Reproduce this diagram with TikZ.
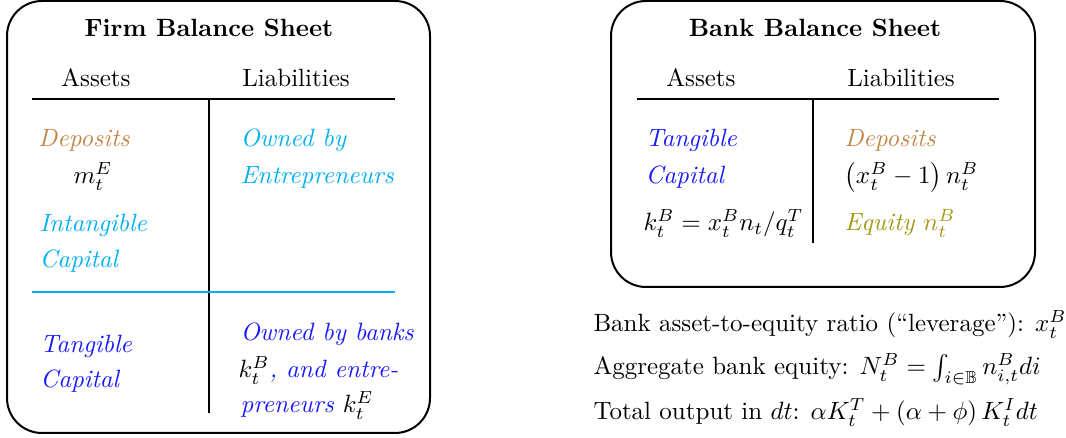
\documentclass[tikz,border=0pt]{standalone}
\usepackage{amsmath,amssymb}
\usepackage{tikz}
\definecolor{depcol}{RGB}{196,134,72}
\definecolor{intcol}{RGB}{0,176,240}
\definecolor{tangcol}{RGB}{25,25,255}
\definecolor{eqcol}{RGB}{165,150,20}

\begin{document}
\begin{tikzpicture}[x=0.4pt,y=-0.4pt,
    sheet/.style={draw, line width=0.8pt, rounded corners=14pt},
    txt/.style={anchor=base west, inner sep=0pt},
    head/.style={anchor=base, inner sep=0pt},
    rule/.style={line width=0.8pt}]
  \useasboundingbox (0,0) rectangle (1066,438);

  % firm balance sheet
  \draw[sheet] (7,1) rectangle (430,433);
  \node[head, font=\bfseries] (firmtitle) at (209,37) {Firm Balance Sheet};
  \node[head] (firmassets) at (96,87) {Assets};
  \node[head] (firmliab) at (296,87) {Liabilities};
  \coordinate (firmtl) at (32,99);
  \coordinate (firmtr) at (395,99);
  \coordinate (firmvt) at (208.5,99);
  \coordinate (firmvb) at (208.5,413);
  \coordinate (firmml) at (32,292);
  \coordinate (firmmr) at (395,292);
  \draw[rule] (firmtl) -- (firmtr);
  \draw[rule] (firmvt) -- (firmvb);
  \draw[rule, intcol] (firmml) -- (firmmr);

  \node[txt, depcol, font=\itshape] (firmdep) at (38,147) {Deposits};
  \node[txt] (firmm) at (73,184) {$m_t^E$};
  \node[txt, intcol, font=\itshape] (firmint) at (39,232) {Intangible};
  \node[txt, intcol, font=\itshape] (firmintcap) at (39,268) {Capital};
  \node[txt, tangcol, font=\itshape] (firmtang) at (40,353) {Tangible};
  \node[txt, tangcol, font=\itshape] (firmtangcap) at (40,388) {Capital};

  \node[txt, intcol, font=\itshape] (firmown) at (240,147) {Owned by};
  \node[txt, intcol, font=\itshape] (firment) at (240,184) {Entrepreneurs};
  \node[txt, tangcol, font=\itshape] (firmbanks) at (240,341) {Owned by banks};
  \node[txt, tangcol, font=\itshape] (firmand) at (238,378) {\textcolor{black}{$k_t^B$}, and entre-};
  \node[txt, tangcol, font=\itshape] (firmpren) at (240,413) {preneurs \textcolor{black}{$k_t^E$}};

  % bank balance sheet
  \draw[sheet] (611,1) rectangle (1035,287);
  \node[head, font=\bfseries] (banktitle) at (815,37) {Bank Balance Sheet};
  \node[head] (bankassets) at (701,87) {Assets};
  \node[head] (bankliab) at (901,87) {Liabilities};
  \coordinate (banktl) at (637,99);
  \coordinate (banktr) at (999,99);
  \coordinate (bankvt) at (813,99);
  \coordinate (bankvb) at (813,243);
  \draw[rule] (banktl) -- (banktr);
  \draw[rule] (bankvt) -- (bankvb);

  \node[txt, tangcol, font=\itshape] (banktang) at (645,147) {Tangible};
  \node[txt, tangcol, font=\itshape] (banktangcap) at (645,184) {Capital};
  \node[txt] (bankk) at (643,231) {$k_t^B=x_t^B n_t/q_t^T$};
  \node[txt, depcol, font=\itshape] (bankdep) at (844,147) {Deposits};
  \node[txt] (bankdepval) at (844,184) {$\left(x_t^B-1\right)n_t^B$};
  \node[txt, eqcol, font=\itshape] (bankeq) at (844,231) {Equity $n_t^B$};

  % notes below
  \node[txt] (noteratio) at (593,332) {Bank asset-to-equity ratio (``leverage''): $x_t^B$};
  \node[txt] (noteequity) at (593,375) {Aggregate bank equity: $N_t^B=\int_{i\in\mathbb{B}}n_{i,t}^B di$};
  \node[txt] (noteoutput) at (593,420) {Total output in $dt$: $\alpha K_t^T+\left(\alpha+\phi\right)K_t^I dt$};
\end{tikzpicture}
\end{document}
